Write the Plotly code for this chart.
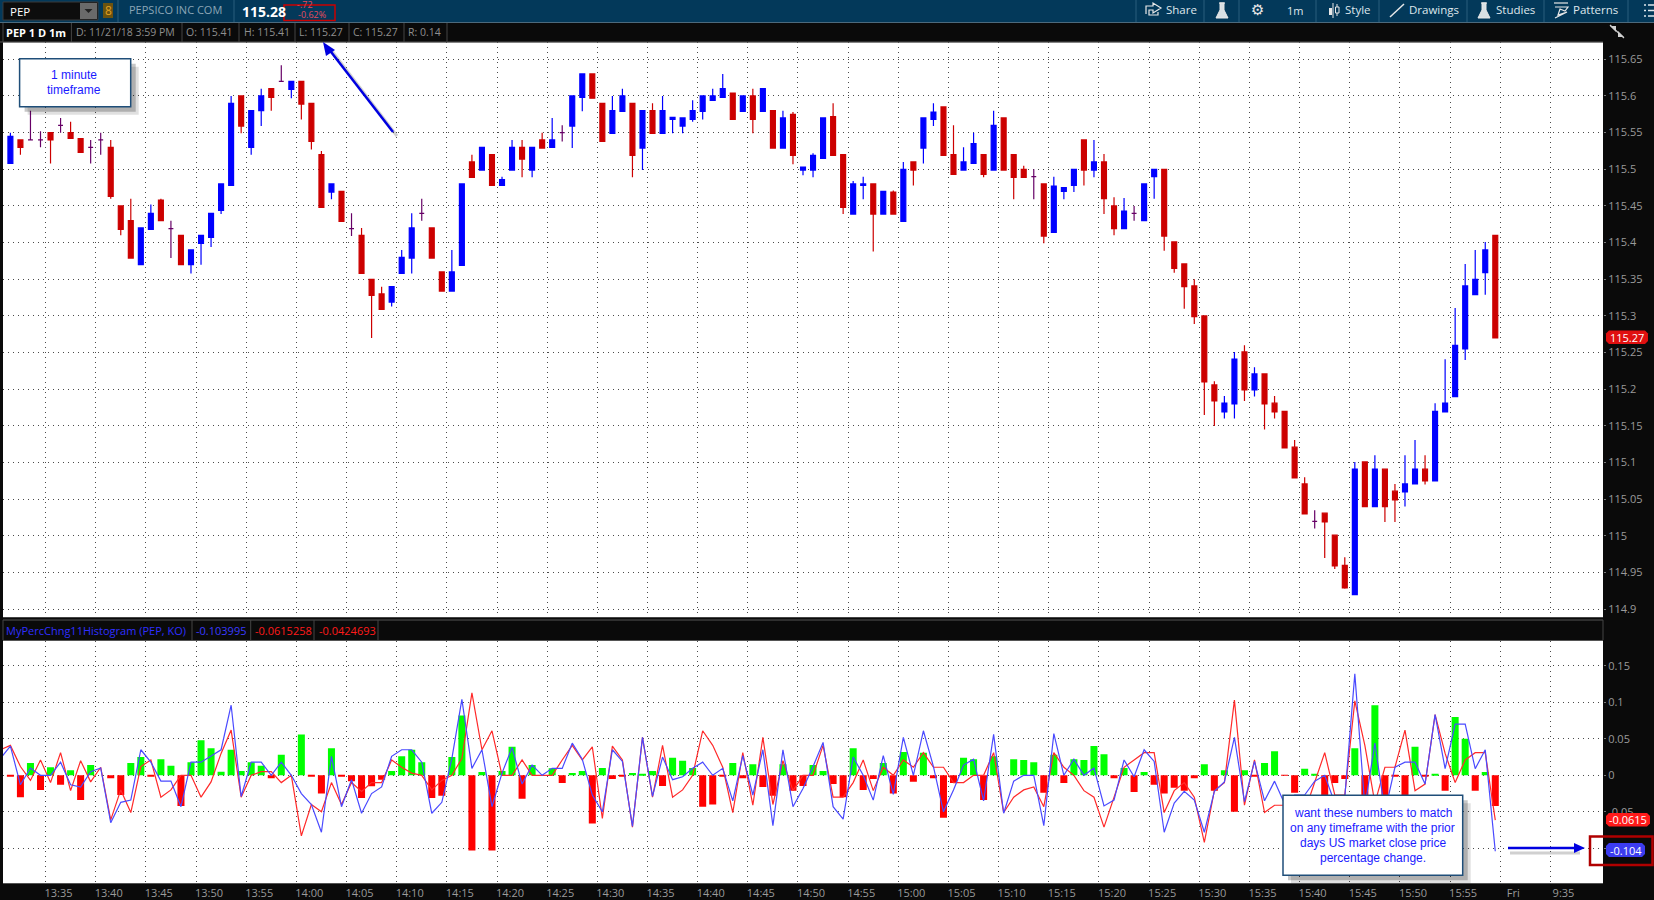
import plotly.graph_objects as go

W, H = 1654, 900

open_ = [
115.508,115.54,115.54,115.54,115.55,115.56,115.55,115.542,115.53,115.54,
115.53,115.45,115.43,115.37,115.418,115.458,115.419,115.41,115.37,115.399,
115.407,115.444,115.478,115.6,115.53,115.58,115.61,115.62,115.609,115.62,
115.59,115.52,115.469,115.47,115.419,115.41,115.35,115.33,115.319,115.358,
115.379,115.44,115.42,115.36,115.334,115.369,115.51,115.499,115.52,115.478,
115.499,115.53,115.499,115.54,115.53,115.55,115.559,115.598,115.63,115.59,
115.549,115.579,115.59,115.529,115.58,115.549,115.568,115.559,115.568,115.579,
115.594,115.598,115.604,115.579,115.6,115.579,115.58,115.529,115.575,115.499,
115.499,115.515,115.572,115.52,115.439,115.478,115.48,115.439,115.469,115.429,
115.51,115.529,115.568,115.585,115.52,115.499,115.508,115.52,115.499,115.57,
115.52,115.5,115.49,115.48,115.414,115.47,115.478,115.54,115.499,115.51,
115.45,115.419,115.44,115.43,115.49,115.5,115.401,115.371,115.341,115.3,
115.206,115.169,115.18,115.251,115.199,115.221,115.181,115.17,115.121,115.071,
115.02,115.031,115.001,114.96,114.92,115.101,115.04,115.091,115.061,115.06,
115.071,115.091,115.075,115.169,115.19,115.255,115.329,115.359,115.41]
high = [
115.55,115.54,115.58,115.552,115.55,115.57,115.565,115.542,115.54,115.55,
115.54,115.45,115.46,115.42,115.452,115.46,115.43,115.41,115.39,115.41,
115.44,115.48,115.6,115.6,115.58,115.61,115.61,115.642,115.62,115.62,
115.59,115.525,115.48,115.47,115.44,115.42,115.35,115.34,115.34,115.39,
115.44,115.46,115.42,115.36,115.39,115.48,115.52,115.53,115.52,115.49,
115.54,115.54,115.53,115.55,115.57,115.56,115.6,115.63,115.63,115.59,
115.6,115.61,115.59,115.58,115.59,115.6,115.571,115.571,115.594,115.6,
115.61,115.63,115.604,115.6,115.61,115.61,115.58,115.58,115.578,115.503,
115.522,115.57,115.59,115.52,115.484,115.49,115.48,115.47,115.471,115.51,
115.51,115.57,115.59,115.585,115.56,115.53,115.55,115.52,115.58,115.57,
115.52,115.505,115.5,115.48,115.49,115.475,115.5,115.54,115.54,115.521,
115.462,115.461,115.45,115.48,115.5,115.5,115.401,115.371,115.35,115.3,
115.211,115.191,115.251,115.26,115.23,115.221,115.191,115.17,115.131,115.08,
115.035,115.031,115.001,114.971,115.101,115.101,115.11,115.091,115.071,115.11,
115.131,115.11,115.181,115.241,115.311,115.371,115.39,115.401,115.41]
low = [
115.508,115.52,115.54,115.53,115.508,115.55,115.542,115.523,115.508,115.52,
115.46,115.41,115.379,115.37,115.418,115.43,115.379,115.37,115.358,115.37,
115.394,115.439,115.478,115.549,115.52,115.559,115.58,115.62,115.597,115.568,
115.527,115.448,115.459,115.429,115.409,115.358,115.27,115.309,115.313,115.358,
115.358,115.43,115.379,115.334,115.334,115.369,115.489,115.499,115.478,115.478,
115.499,115.489,115.489,115.529,115.53,115.538,115.529,115.579,115.597,115.538,
115.549,115.579,115.489,115.499,115.549,115.549,115.549,115.549,115.565,115.568,
115.594,115.598,115.568,115.579,115.549,115.579,115.529,115.529,115.507,115.492,
115.489,115.515,115.519,115.439,115.439,115.459,115.388,115.439,115.439,115.429,
115.478,115.508,115.559,115.519,115.493,115.499,115.508,115.489,115.499,115.499,
115.459,115.489,115.459,115.399,115.414,115.459,115.469,115.478,115.489,115.439,
115.41,115.419,115.43,115.43,115.46,115.389,115.359,115.31,115.289,115.165,
115.15,115.16,115.16,115.184,115.19,115.145,115.16,115.12,115.079,115.03,
115.01,114.97,114.955,114.928,114.92,115.04,115.04,115.019,115.019,115.04,
115.07,115.07,115.075,115.169,115.19,115.24,115.329,115.329,115.27]
close = [
115.545,115.53,115.54,115.54,115.54,115.56,115.542,115.523,115.53,115.54,
115.463,115.418,115.379,115.42,115.44,115.43,115.419,115.37,115.39,115.41,
115.44,115.48,115.59,115.559,115.58,115.6,115.598,115.62,115.62,115.589,
115.538,115.448,115.48,115.429,115.419,115.358,115.328,115.309,115.34,115.38,
115.42,115.44,115.379,115.334,115.36,115.48,115.489,115.53,115.478,115.486,
115.53,115.514,115.53,115.529,115.54,115.55,115.6,115.63,115.597,115.538,
115.58,115.6,115.519,115.58,115.549,115.58,115.571,115.57,115.58,115.6,
115.6,115.61,115.568,115.6,115.568,115.61,115.529,115.57,115.519,115.503,
115.519,115.57,115.519,115.448,115.48,115.48,115.439,115.47,115.439,115.5,
115.499,115.57,115.578,115.519,115.493,115.51,115.535,115.493,115.56,115.499,
115.489,115.489,115.49,115.409,115.477,115.475,115.5,115.499,115.51,115.46,
115.419,115.443,115.44,115.48,115.5,115.409,115.365,115.34,115.299,115.21,
115.184,115.181,115.241,115.199,115.221,115.18,115.169,115.12,115.079,115.03,
115.02,115.019,114.959,114.929,115.091,115.04,115.091,115.04,115.049,115.071,
115.091,115.075,115.17,115.181,115.26,115.341,115.35,115.39,115.27]

histogram = [
-.001,-.03,.017,-.02,.011,-.013,.007,-.034,.014,0,
-.004,-.027,.017,.025,-.002,.022,.013,-.042,.018,.048,
.037,.005,.035,.006,.018,.013,-.004,.028,0,.056,
-.001,-.025,.037,-.001,-.008,-.031,-.015,-.006,.006,.026,
.035,.018,-.031,-.028,.025,.082,-.103,.0045,-.103,.006,
.039,-.032,.014,0,.0095,-.0105,.003,.006,-.066,.01,
-.005,-.002,.003,.002,.006,-.0145,.024,.02,.01,-.043,
-.04,-.001,.017,-.004,.015,-.016,-.028,.015,-.021,-.0145,
.014,.006,-.012,-.03,.037,-.02,-.005,.017,-.025,.032,
-.009,.031,-.004,-.058,-.0105,.024,.022,-.034,.026,0,
.022,.021,.018,-.024,.028,-.0105,.022,.021,.04,.029,
-.004,.01,-.023,.0045,-.013,-.025,-.017,-.021,-.004,.015,
-.021,.007,-.05,.007,-.002,.017,.033,-.0005,-.024,.009,
.002,-.03,-.0105,-.005,.037,-.04,.096,-.035,-.001,-.035,
.039,-.002,.002,-.021,.08,.05,-.021,.0045,-.042]

# the two study lines start one bar left of the first visible candle
blue_line = [
.023,.040,-.013,.010,0,0,.018,-.013,-.016,.005,.010,
-.065,-.037,-.034,.035,.018,-.008,-.008,-.043,.018,.018,
.027,.035,.096,-.029,.018,.018,0,.018,0,-.025,
-.040,-.078,.026,-.043,-.006,-.052,-.025,-.016,.026,.035,
.035,.018,-.052,-.037,.023,.104,.0095,.035,-.043,.003,
.038,-.012,.014,0,.0095,.0095,.044,.022,-.027,-.050,
.035,.019,-.070,.052,-.029,.025,-.006,-.002,.0095,.018,
0,.0095,-.035,.027,-.027,.035,-.069,.035,-.043,-.018,
.012,.045,-.043,-.060,.025,0,-.034,.027,-.026,.052,
0,.061,.012,-.050,-.020,.014,.022,-.035,.056,-.052,
-.008,0,0,-.069,.057,0,.022,0,.010,-.042,
-.034,.021,-.002,.035,.019,-.078,-.038,-.022,-.034,-.078,
-.022,-.009,.052,-.036,.019,-.035,-.008,-.039,-.027,-.027,
-.008,0,-.038,-.03,.139,-.043,.044,-.05,.011,.018,
.018,-.012,.083,.009,.070,.070,.009,.035,-.104]
red_line = [
.035,.041,.012,-.007,.021,-.010,.031,-.021,.020,-.009,.011,
-.061,-.020,-.051,.012,.021,-.030,-.020,0,0,-.030,
-.009,.030,.062,-.030,0,.005,.005,-.010,0,-.083,
-.040,-.050,-.010,-.040,-.010,-.022,-.010,-.010,.021,.011,
.003,0,-.020,-.007,0,.023,.113,.035,.061,0,
0,.021,0,0,0,.021,.041,.021,.039,-.059,
.040,.021,-.071,.052,-.030,.041,-.030,-.020,0,.061,
.041,.011,-.051,.031,-.041,.052,-.040,.020,-.021,0,
0,.041,-.030,-.030,-.010,.021,-.021,.011,0,.021,
.011,.031,.011,.011,-.010,-.010,0,0,.031,-.051,
-.030,-.020,-.016,-.043,.031,.011,0,-.021,-.030,-.071,
-.030,.011,.021,.031,.031,-.051,-.021,-.010,-.030,-.092,
-.021,-.010,.103,-.041,.021,-.051,-.041,-.041,-.041,-.05,
-.008,.031,-.027,-.027,.102,.041,-.038,.011,.011,.062,
-.021,-.012,.083,.030,-.010,.021,.031,.031,-.0615]

x_tick_labels = ["13:35","13:40","13:45","13:50","13:55","14:00","14:05","14:10","14:15","14:20",
                 "14:25","14:30","14:35","14:40","14:45","14:50","14:55","15:00","15:05","15:10",
                 "15:15","15:20","15:25","15:30","15:35","15:40","15:45","15:50","15:55","Fri","9:35"]
x_tick_bars = [3.5+5*k for k in range(30)] + [153.5]
price_ticks = [115.65,115.6,115.55,115.5,115.45,115.4,115.35,115.3,115.25,115.2,115.15,115.1,115.05,115,114.95,114.9]
price_labels = ["115.65","115.6","115.55","115.5","115.45","115.4","115.35","115.3","115.25","115.2","115.15","115.1","115.05","115","114.95","114.9"]
study_ticks = [0.15,0.1,0.05,0,-0.05,-0.1]
study_labels = ["0.15","0.1","0.05","0","-0.05","-0.1"]

BLUE, RED, PURPLE = "#0000ff", "#cc0000", "#660066"
GREY = "#9a9a9a"
FONT = "Open Sans"
GRID = dict(showgrid=True, gridcolor="#4a4a4a", griddash="1px,4px", gridwidth=1, zeroline=False, showline=False)

def X(p): return p / W
def Y(p): return 1 - p / H

n = len(close)
bars = list(range(n))
main_i = [i for i in bars if open_[i] != close[i]]
doji_i = [i for i in bars if open_[i] == close[i]]
def pick(a, idx): return [a[i] for i in idx]

fig = go.Figure()
fig.add_trace(go.Candlestick(
    x=main_i, open=pick(open_, main_i), high=pick(high, main_i), low=pick(low, main_i), close=pick(close, main_i),
    increasing=dict(line=dict(color=BLUE, width=1.2), fillcolor=BLUE),
    decreasing=dict(line=dict(color=RED, width=1.2), fillcolor=RED),
    whiskerwidth=0, xaxis="x", yaxis="y", showlegend=False))
fig.add_trace(go.Candlestick(
    x=doji_i, open=pick(open_, doji_i), high=pick(high, doji_i), low=pick(low, doji_i), close=pick(close, doji_i),
    increasing=dict(line=dict(color=PURPLE, width=1.2), fillcolor=PURPLE),
    decreasing=dict(line=dict(color=PURPLE, width=1.2), fillcolor=PURPLE),
    whiskerwidth=0, xaxis="x", yaxis="y", showlegend=False))
fig.add_trace(go.Bar(
    x=bars, y=histogram, width=0.7,
    marker=dict(color=["#00ff00" if v > 0 else "#ff0000" for v in histogram], line_width=0),
    xaxis="x2", yaxis="y2", showlegend=False))
line_x = list(range(-1, len(blue_line) - 1))
fig.add_trace(go.Scatter(x=line_x, y=red_line, mode="lines", line=dict(color="#ff2a2a", width=1.2),
                         xaxis="x2", yaxis="y2", showlegend=False))
fig.add_trace(go.Scatter(x=line_x, y=blue_line, mode="lines", line=dict(color="#4a4aff", width=1.2),
                         xaxis="x2", yaxis="y2", showlegend=False))

shapes, ann = [], []
def rect(x0, y0, x1, y1, fill, line=None, lw=0, op=1):
    shapes.append(dict(type="rect", xref="paper", yref="paper", x0=X(x0), x1=X(x1), y0=Y(y0), y1=Y(y1),
                       fillcolor=fill, opacity=op, line=dict(color=line or fill, width=lw), layer="above"))
def seg(x0, y0, x1, y1, color, lw=1, op=1):
    shapes.append(dict(type="line", xref="paper", yref="paper", x0=X(x0), x1=X(x1), y0=Y(y0), y1=Y(y1),
                       opacity=op, line=dict(color=color, width=lw), layer="above"))
def poly(points, fill=None, line=None, lw=1, close_it=True):
    d = "M" + " L".join(f"{X(a):.5f},{Y(b):.5f}" for a, b in points) + (" Z" if close_it else "")
    shapes.append(dict(type="path", xref="paper", yref="paper", path=d, fillcolor=fill or "rgba(0,0,0,0)",
                       line=dict(color=line or "rgba(0,0,0,0)", width=lw), layer="above"))
def text(x, y, s, color=GREY, size=11, anchor="left", family=FONT):
    ann.append(dict(xref="paper", yref="paper", x=X(x), y=Y(y), text=s, showarrow=False, xanchor=anchor,
                    yanchor="middle", font=dict(color=color, size=size, family=family), align="center",
                    borderpad=0, borderwidth=0))

# top bar
TEAL, EDGE = "#03395a", "#2a5e7c"
rect(0, 0, W, 22, TEAL)
seg(0, 22.5, W, 22.5, "#4d6a7c", 1)
rect(3, 2, 98, 20, "#0d0d0d", "#3a3a3a", 1)
rect(80, 3, 97, 19, "#6a6a6a")
poly([(84.5, 9), (92.5, 9), (88.5, 13)], fill="#222222")
rect(103, 3, 113, 18, "#6b5310")
text(108, 10.5, "8", "#e0a020", 12, "center")
text(10, 11, "PEP", "#ffffff", 11.5)
seg(118, 0, 118, 22, EDGE); seg(234, 0, 234, 22, EDGE)
text(128.5, 10, "PEPSICO INC COM", "#8ba6b6", 11)
text(241.5, 11, "<b>115.28</b>", "#ffffff", 14)
text(305, 5, "-.72", "#e8495a", 9, "center")
text(312, 14.5, "-0.62%", "#e8495a", 9, "center")
rect(284, 5, 335, 20.5, "rgba(0,0,0,0)", "#cc0000", 1.5)
for sx in [1136, 1204, 1239, 1316, 1379, 1467, 1544, 1628]:
    seg(sx, 0, sx, 22, EDGE)
for tx, s in [(1166, "Share"), (1345, "Style"), (1409, "Drawings"), (1496, "Studies"), (1573, "Patterns")]:
    text(tx, 10, s, "#dfe7ec", 11.5)
text(1295, 10.5, "1m", "#dfe7ec", 11, "center")
text(1257, 10, "⚙", "#e8e8e8", 15, "center", "DejaVu Sans")
poly([(1146, 14), (1146, 6), (1153, 6), (1153, 3), (1161, 8), (1153, 13), (1153, 10), (1149, 10), (1149, 15), (1158, 15), (1158, 12)], line="#e8e8e8", lw=1.2, close_it=False)
for fx in [1222, 1484]:
    poly([(fx - 3, 3), (fx + 3, 3)], line="#e8e8e8", lw=1.2, close_it=False)
    poly([(fx - 2, 3), (fx - 2, 10), (fx - 6, 18), (fx + 6, 18), (fx + 2, 10), (fx + 2, 3)], fill="#d8e0e4", line="#e8e8e8")
seg(1333, 3, 1333, 18, "#e8e8e8", 1); rect(1329, 8, 1332, 15, "#e8e8e8")
seg(1337, 4, 1337, 16, "#e8e8e8", 1); rect(1335.5, 7, 1339, 13, TEAL, "#e8e8e8", 1)
seg(1390, 17, 1404, 4, "#e8e8e8", 1.5)
seg(1554, 3, 1568, 3, "#e8e8e8", 1.2)
poly([(1555, 7), (1568, 7), (1565, 11), (1560, 9), (1558, 15), (1567, 12), (1555, 18)], line="#e8e8e8", lw=1.2, close_it=False)
for my in [5, 10.5, 16]:
    seg(1644, my, 1646, my, "#dfe7ec", 1.5); seg(1648, my, 1654, my, "#dfe7ec", 1.5)

# header ribbon of the price panel
seg(0, 42, 1603, 42, "#555555", 1)
for sx in [3, 71.4, 182, 239, 295, 349, 404, 447]:
    seg(sx, 23, sx, 42, "#444444")
text(6.4, 32, "<b>PEP 1 D 1m</b>", "#ffffff", 11)
for tx, s in [(75.7, "D: 11/21/18 3:59 PM"), (186.4, "O: 115.41"), (243.6, "H: 115.41"),
              (299, "L: 115.27"), (353, "C: 115.27"), (408, "R: 0.14")]:
    text(tx, 32, s, "#8f8f8f", 10.5)
seg(1610, 25, 1624, 38, "#cfcfcf", 1.2)
poly([(1610, 26), (1616, 26), (1616, 32)], fill="#cfcfcf")
poly([(1624, 37), (1618, 37), (1618, 31)], fill="#cfcfcf")

# header ribbon of the study panel
seg(3, 620, 1603, 620, "#555555", 1); seg(3, 640.5, 1603, 640.5, "#555555", 1)
seg(3, 617.5, 1603, 617.5, "#444444", 1)
for sx in [3, 192, 250.7, 314, 378, 1603]:
    seg(sx, 620, sx, 640, "#444444")
text(6.4, 630, "MyPercChng11Histogram (PEP, KO)", "#2f2fff", 11)
text(196, 630, "-0.103995", "#3a3aff", 11)
text(254.6, 630, "-0.0615258", "#ff1a1a", 11)
text(318.6, 630, "-0.0424693", "#ff1a1a", 11)

# call-out boxes
def callout(x0, y0, x1, y1):
    rect(x0 + 8, y0 + 8, x1 + 8, y1 + 8, "#000000", op=0.12)
    rect(x0 + 5, y0 + 5, x1 + 5, y1 + 5, "#000000", op=0.22)
    rect(x0, y0, x1, y1, "#ffffff", "#1f4e79", 1.5)
callout(19.6, 58.7, 130.7, 106.7)
text(74, 74.5, "1 minute", "#1a1aff", 12, "center", "Liberation Sans")
text(74, 89.5, "timeframe", "#1a1aff", 12, "center", "Liberation Sans")
callout(1283, 795.3, 1462.7, 875.3)
for k, s in enumerate(["want these numbers to match", "on any timeframe with the prior",
                       "days US market close price", "percentage change."]):
    text(1372.5, 812.5 + 15 * k, s, "#1a1aff", 12, "center", "Liberation Sans")

# arrows
seg(397, 136, 331, 50, "#000000", 3, 0.18)
seg(393, 132, 328, 48, "#0000e0", 2.5)
poly([(323, 42), (335, 50), (326, 56)], fill="#0000e0")
seg(1510, 853, 1580, 853, "#000000", 3, 0.18)
seg(1508, 848, 1577, 848, "#0000e0", 2.5)
poly([(1585, 848), (1574, 843), (1574, 853)], fill="#0000e0")

# price tags
def tag(x0, y0, x1, y1, fill, s):
    r = 3
    d = (f"M{X(x0+r):.5f},{Y(y0):.5f} L{X(x1-r):.5f},{Y(y0):.5f} L{X(x1):.5f},{Y(y0+r):.5f} L{X(x1):.5f},{Y(y1-r):.5f} "
         f"L{X(x1-r):.5f},{Y(y1):.5f} L{X(x0+r):.5f},{Y(y1):.5f} L{X(x0):.5f},{Y(y1-r):.5f} L{X(x0):.5f},{Y(y0+r):.5f} Z")
    shapes.append(dict(type="path", xref="paper", yref="paper", path=d, fillcolor=fill, line=dict(color=fill, width=0), layer="above"))
    text((x0 + x1) / 2, (y0 + y1) / 2, s, "#ffffff", 11, "center")
tag(1606, 330.5, 1648, 344, "#e01010", "115.27")
tag(1606, 813, 1650, 826.5, "#ff1a1a", "-0.0615")
tag(1606, 843, 1645, 857, "#3c3cf0", "-0.104")
rect(1590, 836.5, 1652.5, 865, "rgba(0,0,0,0)", "#b00000", 2.5)

# x position: bar i sits at 10.4 + 10.033 i px; grid ticks fall half a bar left of their minute's bar
xr = [(3 - 10.4) / 10.033, (1603 - 10.4) / 10.033]
PX = 733.3
VP = 730
layout_axes = dict(
    xaxis=dict(domain=[X(3), X(1603)], range=xr, anchor="y", tickvals=x_tick_bars, showticklabels=False,
               rangeslider=dict(visible=False), ticks="", **GRID),
    yaxis=dict(domain=[Y(617), Y(42.3)], range=[115.5 - (617 - 169.3) / PX, 115.5 + (169.3 - 42.3) / PX], anchor="x",
               side="right", tickvals=price_ticks, ticktext=price_labels, ticks="outside", ticklen=2, tickcolor="#777777",
               tickfont=dict(color=GREY, size=11, family=FONT), **GRID),
    xaxis2=dict(domain=[X(3), X(1603)], range=xr, anchor="y2", tickvals=x_tick_bars, ticktext=x_tick_labels,
                tickfont=dict(color=GREY, size=11, family=FONT), ticklabelshift=13, ticks="", ticklabelstandoff=2, **GRID),
    yaxis2=dict(domain=[Y(883.3), Y(640.7)], range=[-(883.3 - 775.3) / VP, (775.3 - 640.7) / VP], anchor="x2",
                side="right", tickvals=study_ticks, ticktext=study_labels, ticks="outside", ticklen=2, tickcolor="#777777",
                tickfont=dict(color=GREY, size=11, family=FONT), **GRID),
)
fig.update_layout(width=W, height=H, margin=dict(l=0, r=0, t=0, b=0), autosize=False,
                  paper_bgcolor="#0a0a0a", plot_bgcolor="#ffffff", barmode="overlay", bargap=0.3,
                  hovermode=False, showlegend=False, shapes=shapes, annotations=ann, **layout_axes)

fig.write_html("out.html", post_script="document.body.style.margin='0';document.body.style.background='#0a0a0a';",
               config={"displayModeBar": False})
